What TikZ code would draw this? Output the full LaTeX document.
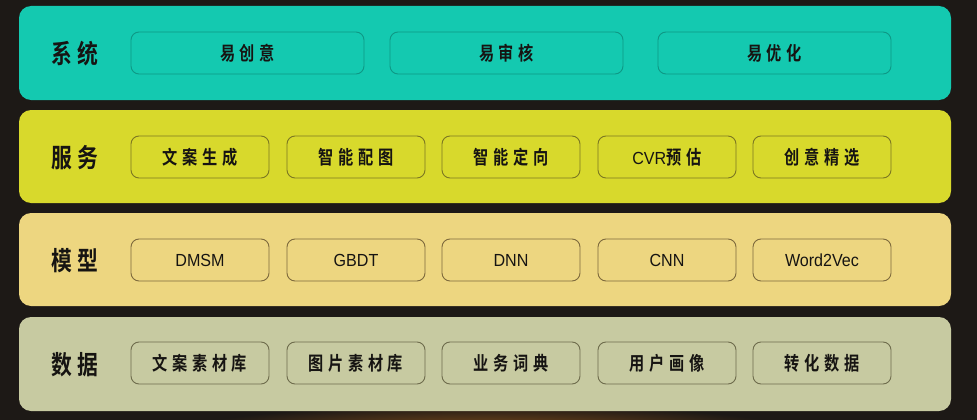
\documentclass[tikz,border=0pt]{standalone}
\usepackage{fontspec}
\setmainfont{Liberation Sans}
\newfontfamily\cjkb[FakeStretch=0.8]{Noto Sans CJK SC Bold}
\newfontfamily\latf[FakeStretch=0.92]{Liberation Sans}
\newdimen\cgap
\def\spacedtxt#1{\spacedfirst#1\relax}
\def\spacedfirst#1{#1\spacedrest}
\def\spacedrest#1{\ifx#1\relax\else\kern\cgap #1\expandafter\spacedrest\fi}
\newcommand\ctxt[1]{{\cjkb\fontsize{19}{19}\selectfont\cgap=4.6pt\spacedtxt{#1}}}
\newcommand\ltxt[1]{{\latf\fontsize{17.5}{17.5}\selectfont #1}}
\newcommand\labtxt[1]{{\cjkb\fontsize{26}{26}\selectfont\cgap=6pt\spacedtxt{#1}}}
\definecolor{bgc}{HTML}{1D1916}
\definecolor{tealf}{HTML}{14C9B0}
\definecolor{tealb}{HTML}{0E9885}
\definecolor{yelf}{HTML}{D8D92C}
\definecolor{yelb}{HTML}{7C7722}
\definecolor{ltyf}{HTML}{EDD680}
\definecolor{ltyb}{HTML}{7E6A3C}
\definecolor{sagef}{HTML}{C7CAA1}
\definecolor{sageb}{HTML}{6E6C4C}
\definecolor{txtc}{HTML}{161412}
\tikzset{
  band/.style={rounded corners=12pt, minimum width=932pt, minimum height=94pt, inner sep=0pt},
  item/.style={rounded corners=8pt, minimum height=42pt, inner sep=0pt, line width=0.9pt, text=txtc},
  lbl/.style={inner sep=0pt, text=txtc},
  w5/.style={minimum width=138pt},
  w3/.style={minimum width=233pt}
}
\begin{document}
\begin{tikzpicture}[x=1pt,y=-1pt]
\fill[bgc] (0,0) rectangle (977,420);
\useasboundingbox (0,0) rectangle (977,420);
\begin{scope}
\clip (0,405) rectangle (977,420);
\shade[inner color=brown!70!orange!60!black, outer color=bgc] (490,430) ellipse (300pt and 25pt);
\end{scope}
% bands
\node[band, fill=tealf] (b1) at (485,53) {};
\node[band, fill=yelf, minimum height=93pt] (b2) at (485,156.5) {};
\node[band, fill=ltyf, minimum height=93pt] (b3) at (485,259.5) {};
\node[band, fill=sagef] (b4) at (485,364) {};
% labels
\node[lbl] (l1) at (75,54) {\labtxt{系统}};
\node[lbl] (l2) at (75,158) {\labtxt{服务}};
\node[lbl] (l3) at (75,261) {\labtxt{模型}};
\node[lbl] (l4) at (75,365) {\labtxt{数据}};
% row 1
\node[item, w3, draw=tealb] (s1) at (247.5,53) {\ctxt{易创意}};
\node[item, w3, draw=tealb] (s2) at (506.5,53) {\ctxt{易审核}};
\node[item, w3, draw=tealb] (s3) at (774.5,53) {\ctxt{易优化}};
% row 2
\node[item, w5, draw=yelb] (f1) at (200,157) {\ctxt{文案生成}};
\node[item, w5, draw=yelb] (f2) at (356,157) {\ctxt{智能配图}};
\node[item, w5, draw=yelb] (f3) at (511,157) {\ctxt{智能定向}};
\node[item, w5, draw=yelb] (f4) at (667,157) {{\latf\fontsize{17.5}{17.5}\selectfont CVR}{\cjkb\fontsize{19}{19}\selectfont\kern0.5pt 预\kern4.6pt 估}};
\node[item, w5, draw=yelb] (f5) at (822,157) {\ctxt{创意精选}};
% row 3
\node[item, w5, draw=ltyb] (m1) at (200,260) {\ltxt{DMSM}};
\node[item, w5, draw=ltyb] (m2) at (356,260) {\ltxt{GBDT}};
\node[item, w5, draw=ltyb] (m3) at (511,260) {\ltxt{DNN}};
\node[item, w5, draw=ltyb] (m4) at (667,260) {\ltxt{CNN}};
\node[item, w5, draw=ltyb] (m5) at (822,260) {\ltxt{Word2Vec}};
% row 4
\node[item, w5, draw=sageb] (d1) at (200,363) {\ctxt{文案素材库}};
\node[item, w5, draw=sageb] (d2) at (356,363) {\ctxt{图片素材库}};
\node[item, w5, draw=sageb] (d3) at (511,363) {\ctxt{业务词典}};
\node[item, w5, draw=sageb] (d4) at (667,363) {\ctxt{用户画像}};
\node[item, w5, draw=sageb] (d5) at (822,363) {\ctxt{转化数据}};
\end{tikzpicture}
\end{document}
